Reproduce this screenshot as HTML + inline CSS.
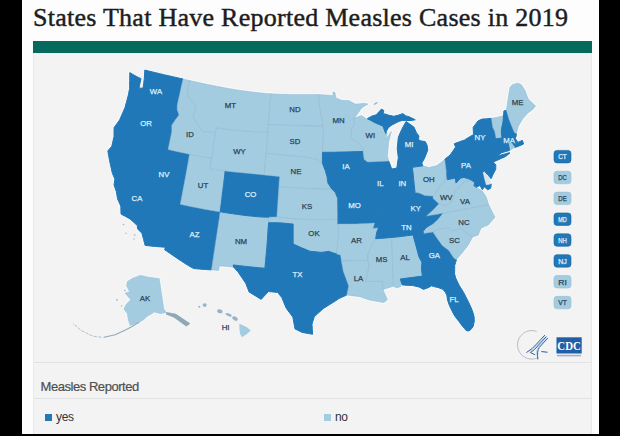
<!DOCTYPE html>
<html><head><meta charset="utf-8"><style>
html,body{margin:0;padding:0;width:620px;height:436px;overflow:hidden;background:#000;}
#page{position:absolute;left:22px;top:0;width:577px;height:434px;background:#fdfdfd;}
#title{position:absolute;left:11px;top:2px;font-family:"Liberation Serif",serif;font-size:26px;line-height:32px;color:#1d1d1d;letter-spacing:0.26px;-webkit-text-stroke:0.45px #1d1d1d;white-space:nowrap;transform-origin:0 0;}
#bar{position:absolute;left:11px;top:41px;width:559px;height:12px;background:#05695b;}
#panel{position:absolute;left:11px;top:53px;width:559px;height:381px;background:#f3f3f3;border-left:1px solid #e9e9e9;border-right:1px solid #e9e9e9;box-sizing:border-box;}
.hl{position:absolute;left:0;width:100%;height:1px;background:#e2e2e2;}
#lt{position:absolute;left:6.5px;top:326px;font-family:"Liberation Sans",sans-serif;font-size:13px;letter-spacing:-0.45px;color:#4f4f4f;white-space:nowrap;-webkit-text-stroke:0.2px #4f4f4f;}
.lg{position:absolute;top:357px;font-family:"Liberation Sans",sans-serif;font-size:12px;letter-spacing:-0.3px;color:#333;white-space:nowrap;}
.sq{display:inline-block;width:7px;height:7px;margin-right:4px;vertical-align:0px;}
svg{position:absolute;left:0;top:0;}
svg text{font-family:"Liberation Sans",sans-serif;font-size:7.8px;font-weight:normal;text-anchor:middle;stroke-width:0.25px;}
</style></head><body>
<div id="page">
<div id="title">States That Have Reported Measles Cases in 2019</div>
<div id="bar"></div>
<div id="panel">
<div class="hl" style="top:309px"></div>
<div class="hl" style="top:345px"></div>
<div id="lt">Measles Reported</div>
<div class="lg" style="left:11px"><span class="sq" style="background:#2178b8"></span>yes</div>
<div class="lg" style="left:290px"><span class="sq" style="background:#a4cce1"></span>no</div>
</div>
</div>
<svg width="620" height="436" viewBox="0 0 620 436">
<g fill="#fbfdff" stroke="#fbfdff" stroke-width="2.2" stroke-linejoin="round"><path d="M129.8,72.6 133.9,75.0 138.1,77.3 141.0,78.6 140.0,83.4 139.0,88.2 143.0,88.1 143.7,83.2 144.3,78.4 144.8,70.0 149.8,71.3 154.9,72.5 159.9,73.7 164.4,74.8 168.9,75.8 173.3,76.8 178.2,77.9 183.1,79.0 181.6,85.4 180.2,91.9 178.7,98.5 177.3,105.0 177.2,109.4 172.5,108.4 167.7,107.3 162.9,106.2 158.4,106.0 154.4,106.0 150.4,106.0 146.4,106.0 142.8,105.4 139.2,104.8 136.4,101.1 133.7,97.5 128.4,94.8 129.6,88.4 129.7,80.5Z"/><path d="M128.4,94.8 133.7,97.5 136.4,101.1 139.2,104.8 142.8,105.4 146.4,106.0 150.4,106.0 154.4,106.0 158.4,106.0 162.9,106.2 167.7,107.3 172.5,108.4 177.2,109.4 179.1,115.1 175.6,119.6 171.8,125.2 171.8,131.5 170.6,137.5 169.4,143.4 168.1,149.4 162.2,148.0 156.2,146.7 150.2,145.3 144.2,143.9 138.1,142.5 132.1,141.0 126.0,139.5 120.0,138.0 114.0,136.4 114.0,132.0 114.1,127.5 116.9,123.7 119.6,119.9 122.3,113.7 125.0,107.5 126.7,101.1Z"/><path d="M114.0,136.4 119.3,137.8 124.6,139.2 129.9,140.5 135.2,141.8 140.5,143.0 145.9,144.3 143.9,151.5 142.0,158.7 140.0,165.9 138.1,173.0 142.6,179.9 147.3,187.0 152.0,194.2 156.8,201.5 161.6,208.9 166.6,216.3 171.6,223.7 174.1,232.2 169.8,237.5 167.8,242.4 165.8,247.3 160.6,246.9 155.5,246.5 150.3,246.0 145.1,245.4 143.5,239.3 141.9,233.2 137.5,228.9 137.3,225.6 133.6,222.2 130.0,218.9 125.5,216.5 121.0,214.1 120.8,206.2 117.6,199.0 116.3,191.5 114.0,184.9 114.9,179.1 112.4,173.5 111.0,167.2 109.6,160.9 108.7,155.9 107.8,150.9 111.8,146.2 112.9,141.3Z"/><path d="M145.9,144.3 151.5,145.6 157.1,146.9 162.6,148.1 168.1,149.4 173.5,150.7 178.9,151.9 184.2,153.1 189.6,154.3 188.3,161.5 187.0,168.6 185.7,175.7 184.4,182.8 183.1,189.9 181.7,197.1 180.3,204.3 178.8,212.4 173.0,213.2 172.3,218.4 171.6,223.7 166.6,216.3 161.6,208.9 156.8,201.5 152.0,194.2 147.3,187.0 142.6,179.9 138.1,173.0 140.0,165.9 142.0,158.7 143.9,151.5Z"/><path d="M180.3,204.3 186.0,205.5 191.7,206.7 197.3,207.8 203.0,208.9 208.8,209.9 214.5,210.9 220.2,211.8 219.2,219.0 218.1,226.3 217.0,233.5 215.9,240.8 214.8,248.0 213.7,255.3 212.6,262.6 211.5,269.9 205.5,269.5 199.4,269.1 193.4,268.5 187.4,265.0 181.6,261.3 175.8,257.4 170.1,253.5 164.4,249.6 165.8,247.3 167.8,242.4 169.8,237.5 174.1,232.2 171.6,223.7 172.3,218.4 173.0,213.2 178.8,212.4Z"/><path d="M220.2,211.8 226.2,212.7 232.3,213.7 238.4,214.5 244.4,215.3 250.5,216.0 256.7,216.6 262.8,217.1 269.0,217.2 268.4,225.1 267.9,232.5 267.4,239.7 266.9,246.9 266.3,254.0 265.6,261.1 264.9,268.3 258.5,267.7 252.1,267.1 245.7,266.4 239.4,265.7 233.2,265.0 233.7,267.3 228.9,266.8 224.2,266.3 219.4,265.9 218.7,270.5 215.1,270.2 211.5,269.9 212.6,262.6 213.7,255.3 214.8,248.0 215.9,240.8 217.0,233.5 218.1,226.3 219.2,219.0Z"/><path d="M189.5,154.3 195.0,155.4 200.4,156.4 206.0,157.4 211.5,158.3 210.8,163.5 210.0,168.6 215.0,169.4 220.1,170.2 225.2,170.9 224.4,177.8 223.6,184.6 222.7,191.4 221.9,198.2 221.1,205.0 220.2,211.8 214.5,210.9 208.8,209.9 203.0,208.9 197.3,207.8 191.7,206.7 186.0,205.5 180.3,204.3 181.7,197.1 183.0,189.9 184.4,182.8 185.7,175.7 187.0,168.6 188.3,161.5Z"/><path d="M225.2,170.9 231.2,171.6 237.3,172.3 243.4,172.9 249.5,173.5 255.5,174.1 261.6,174.7 267.6,175.3 273.6,175.9 279.6,176.5 279.1,183.4 278.6,190.1 278.2,196.8 277.7,203.4 277.3,210.1 276.9,217.0 270.5,217.2 264.1,217.1 257.7,216.7 251.4,216.1 245.1,215.4 238.9,214.6 232.6,213.7 226.4,212.8 220.2,211.8 221.1,205.0 221.9,198.2 222.7,191.4 223.6,184.6 224.4,177.8Z"/><path d="M216.2,127.6 221.8,128.4 227.5,129.2 233.2,129.9 239.0,130.5 244.8,131.1 250.6,131.5 256.4,131.9 262.2,132.2 268.0,132.5 267.5,139.1 266.8,146.1 266.2,153.3 265.5,160.5 264.8,167.8 264.2,174.9 258.1,174.3 252.1,173.7 246.0,173.1 239.9,172.5 233.8,171.9 227.8,171.2 221.8,170.4 215.9,169.5 210.0,168.6 211.0,161.8 212.0,154.9 213.1,148.0 214.1,141.2 215.1,134.4Z"/><path d="M183.1,79.0 186.4,79.7 189.7,80.5 188.6,85.6 187.5,90.7 188.5,96.8 192.3,101.7 196.3,106.5 194.6,112.0 193.0,117.5 196.0,121.8 199.0,126.1 202.7,131.6 207.6,131.7 212.5,131.7 215.4,132.7 214.4,139.1 213.4,145.5 212.5,151.9 211.5,158.3 206.0,157.4 200.5,156.4 195.0,155.4 189.6,154.3 184.2,153.1 178.9,151.9 173.5,150.7 168.1,149.4 169.4,143.4 170.6,137.5 171.8,131.5 171.8,125.2 175.6,119.6 179.1,115.1 177.2,109.4 177.3,105.0 178.7,98.5 180.2,91.9 181.6,85.4Z"/><path d="M189.7,80.5 194.2,81.5 198.8,82.5 203.3,83.5 207.8,84.4 212.2,85.3 216.7,86.2 221.2,87.1 225.7,87.9 230.2,88.7 234.7,89.4 239.2,90.2 243.8,90.8 248.3,91.5 252.9,92.1 257.5,92.6 262.0,93.1 266.5,93.5 271.0,93.8 270.3,100.6 269.7,107.5 269.2,114.2 268.7,120.8 268.3,126.8 268.0,132.5 262.2,132.2 256.4,131.9 250.6,131.5 244.8,131.1 239.0,130.5 233.2,129.9 227.5,129.2 221.8,128.4 216.2,127.6 215.4,132.7 212.5,131.7 207.6,131.7 202.7,131.6 199.0,126.1 196.0,121.8 193.0,117.5 194.6,112.0 196.3,106.5 192.3,101.7 188.5,96.8 187.5,90.7 188.6,85.6Z"/><path d="M271.0,93.8 275.7,94.0 280.4,94.2 285.2,94.3 289.9,94.4 294.5,94.4 299.2,94.4 304.4,94.4 309.7,94.4 314.1,94.4 318.6,94.5 319.0,99.6 319.5,104.7 320.3,109.9 321.2,115.1 322.1,120.6 323.0,126.2 317.4,126.1 311.9,126.0 306.4,125.9 300.9,125.7 295.5,125.6 290.1,125.4 284.7,125.2 279.3,124.9 273.9,124.7 268.4,124.5 268.9,117.2 269.6,109.5 270.2,101.6Z"/><path d="M268.4,124.5 273.9,124.7 279.3,124.9 284.7,125.2 290.1,125.4 295.5,125.6 300.9,125.7 306.4,125.9 311.9,126.0 317.4,126.1 323.0,126.2 323.5,133.0 323.2,139.4 322.8,145.9 322.5,152.3 322.4,157.7 322.4,163.0 318.2,160.0 312.6,158.6 307.1,157.1 301.2,156.7 295.4,156.3 289.6,155.7 283.8,155.2 278.0,154.5 272.1,153.9 266.2,153.3 266.9,145.4 267.6,137.7 268.1,130.7Z"/><path d="M266.2,153.3 272.1,153.9 278.0,154.5 283.8,155.2 289.6,155.7 295.4,156.3 301.2,156.7 307.1,157.1 312.6,158.6 318.2,160.0 322.4,163.0 325.2,170.3 327.0,176.6 328.0,183.1 331.9,189.1 325.9,189.1 319.9,189.0 314.0,188.9 308.1,188.6 302.2,188.3 296.3,188.0 290.5,187.6 284.7,187.2 278.9,186.8 279.2,181.7 279.6,176.5 274.5,176.0 269.3,175.5 264.2,174.9 264.8,167.8 265.5,160.5Z"/><path d="M278.9,186.8 284.7,187.2 290.5,187.6 296.3,188.0 302.2,188.3 308.1,188.6 314.0,188.9 319.9,189.0 325.9,189.1 331.9,189.1 335.2,192.2 337.8,198.4 337.9,205.5 338.0,212.6 338.0,219.5 331.9,219.5 325.6,219.6 319.4,219.6 313.2,219.6 307.0,219.5 300.9,219.3 294.8,218.9 288.8,218.3 282.9,217.5 276.9,217.0 277.4,209.3 277.9,201.8 278.4,194.3Z"/><path d="M269.0,217.2 275.3,217.0 281.5,217.4 287.6,218.1 293.7,218.8 299.9,219.2 306.2,219.5 312.6,219.6 318.9,219.6 325.3,219.6 331.7,219.5 338.0,219.5 338.5,224.4 338.6,229.8 338.6,235.3 337.8,241.6 337.2,247.8 336.9,254.1 332.9,252.8 328.9,251.4 325.0,251.9 321.1,252.4 315.5,251.8 310.0,251.3 306.0,249.6 302.0,248.0 297.2,245.8 293.1,244.0 293.1,237.4 293.1,230.8 293.1,224.1 287.1,223.5 281.0,222.9 274.9,222.7 268.6,222.8Z"/><path d="M268.6,222.8 274.9,222.7 281.0,222.9 287.1,223.5 293.1,224.1 293.1,230.8 293.1,237.4 293.1,244.0 297.2,245.8 302.0,248.0 306.0,249.6 310.0,251.3 315.5,251.8 321.1,252.4 325.0,251.9 328.9,251.4 332.9,252.8 336.9,254.1 340.6,255.1 341.9,263.4 343.4,271.6 345.0,275.7 346.5,279.8 348.7,285.9 347.8,290.4 346.8,295.0 342.9,296.8 338.9,298.6 335.1,301.2 329.3,304.8 323.5,308.4 318.9,312.6 314.3,316.7 312.0,324.1 312.3,329.2 312.6,334.3 308.5,333.6 302.1,332.4 295.0,328.9 293.9,323.0 292.8,317.1 289.5,312.7 286.3,308.4 284.0,303.0 281.8,297.6 277.7,292.4 273.1,292.0 268.5,291.5 263.9,296.4 261.2,299.4 255.1,295.7 249.1,292.0 245.6,283.1 241.7,277.4 237.8,271.7 233.7,267.3 233.2,265.0 239.4,265.7 245.7,266.4 252.1,267.1 258.5,267.7 264.9,268.3 265.6,260.7 266.3,253.3 267.0,245.8 267.5,238.3 268.0,230.7Z"/><path d="M318.6,94.5 322.3,94.7 325.9,95.0 329.6,95.2 333.1,95.4 333.0,91.7 335.0,92.5 336.0,97.9 338.9,99.1 341.7,100.3 345.3,100.4 348.8,100.5 352.1,102.3 355.6,104.1 359.7,103.7 364.3,103.2 368.1,104.0 364.4,106.2 361.3,108.4 358.4,112.8 355.1,117.2 353.9,118.2 354.5,124.3 351.5,129.4 351.4,133.9 351.2,138.5 357.2,141.5 362.8,148.3 363.1,151.5 357.5,151.6 351.8,151.8 346.0,152.0 340.1,152.1 334.2,152.3 328.3,152.3 322.5,152.3 322.8,145.9 323.2,139.4 323.5,133.0 323.0,126.2 322.1,120.6 321.2,115.1 320.3,109.9 319.5,104.7 319.0,99.6Z"/><path d="M322.5,152.3 328.3,152.3 334.2,152.3 340.1,152.1 346.0,152.0 351.8,151.8 357.5,151.6 363.1,151.5 364.2,159.4 367.7,161.9 371.7,167.0 371.4,169.1 368.5,172.3 364.8,176.7 362.6,184.2 360.1,182.0 354.8,182.3 349.5,182.5 344.1,182.8 338.8,182.9 333.4,183.0 328.0,183.1 327.0,176.6 325.2,170.3 322.4,163.0 322.4,157.7Z"/><path d="M328.0,183.1 333.4,183.0 338.8,182.9 344.1,182.8 349.5,182.5 354.8,182.3 360.1,182.0 362.6,184.2 362.6,189.2 368.7,195.8 373.7,199.7 372.6,205.9 378.9,211.1 382.5,217.4 379.9,222.8 378.5,228.0 372.9,228.4 374.5,223.1 368.4,223.5 362.2,223.8 356.1,224.0 350.0,224.1 344.0,224.1 338.0,224.1 338.0,219.5 338.0,212.6 337.9,205.5 337.8,198.4 335.2,192.2 331.9,189.1Z"/><path d="M338.0,224.1 344.0,224.1 350.0,224.1 356.1,224.0 362.2,223.8 368.4,223.5 374.5,223.1 372.9,228.4 378.5,228.0 376.7,232.3 375.7,238.7 371.8,245.2 369.8,249.9 368.0,254.5 368.1,260.4 361.4,260.6 354.7,260.8 347.9,260.9 341.4,261.0 340.6,255.1 336.9,254.1 337.2,247.8 337.8,241.6 338.6,235.3 338.4,229.6Z"/><path d="M341.4,261.0 347.9,260.9 354.7,260.8 361.4,260.6 368.1,260.4 369.1,265.7 368.2,270.5 367.3,275.4 366.0,281.7 371.4,281.5 376.9,281.3 382.3,281.0 382.8,285.2 383.1,289.4 383.8,291.5 385.6,295.6 387.4,299.7 383.9,302.6 377.3,301.4 373.2,300.7 369.1,300.0 364.6,298.4 360.0,296.8 353.5,295.9 346.8,295.0 347.8,290.4 348.7,285.9 346.5,279.8 345.0,275.7 343.4,271.6 342.4,266.3Z"/><path d="M375.7,238.7 381.2,238.3 386.5,237.9 391.8,237.4 392.0,245.6 392.3,253.8 392.5,262.1 392.6,270.3 393.2,278.3 393.4,286.3 388.2,287.9 383.1,289.4 382.8,285.2 382.3,281.0 376.9,281.3 371.4,281.5 366.0,281.7 367.3,275.4 368.2,270.5 369.1,265.7 368.1,260.4 368.0,254.5 369.8,249.9 371.8,245.2Z"/><path d="M391.8,237.4 397.2,236.9 402.5,236.3 407.8,235.6 413.0,234.9 415.0,242.2 417.0,249.5 418.9,256.7 421.9,262.4 421.5,269.8 422.5,276.1 416.9,276.9 411.3,277.6 405.8,278.3 400.3,279.0 401.1,286.4 396.8,288.0 393.4,286.3 393.2,278.3 392.6,270.3 392.5,262.1 392.3,253.8 392.0,245.6Z"/><path d="M413.0,234.9 418.0,234.2 423.0,233.5 428.0,232.7 433.0,231.9 436.1,236.7 439.1,241.0 442.3,245.4 449.0,250.6 454.0,258.3 456.5,259.6 454.7,265.5 454.7,269.7 454.6,273.9 449.9,278.3 448.0,276.4 441.9,277.2 435.9,277.8 429.9,278.4 424.0,278.9 422.5,276.1 421.5,269.8 421.9,262.4 418.9,256.7 417.0,249.5 415.0,242.2Z"/><path d="M400.3,279.0 422.5,276.1 424.0,278.9 448.0,276.4 449.9,278.3 454.6,273.9 455.7,278.0 459.0,285.0 463.7,292.5 467.0,299.0 470.1,305.3 472.5,311.0 474.1,316.5 474.3,321.0 473.3,326.2 471.0,329.5 468.5,331.0 466.0,330.5 464.5,328.6 461.5,325.0 458.9,321.4 456.5,318.5 454.1,315.0 451.5,310.0 449.3,305.3 447.5,300.0 446.9,295.7 445.5,292.5 442.8,289.3 438.0,287.5 433.7,286.6 431.6,285.8 428.0,287.8 423.5,289.4 419.0,287.0 412.3,285.5 406.0,285.2 402.1,284.9Z"/><path d="M433.0,231.9 438.4,228.8 443.9,228.1 449.4,227.4 451.9,230.7 456.5,229.8 461.1,228.9 466.8,233.0 472.7,236.9 468.5,244.7 462.8,252.3 459.6,256.0 456.5,259.6 454.0,258.3 449.0,250.6 442.3,245.4 439.1,241.0 436.1,236.7Z"/><path d="M423.3,233.4 428.2,232.7 433.0,231.9 438.4,228.8 443.9,228.1 449.4,227.4 451.9,230.7 456.5,229.8 461.1,228.9 466.8,233.0 472.7,236.9 478.2,235.2 481.0,228.2 484.7,226.6 488.3,225.1 491.7,221.1 495.1,217.2 491.9,210.9 488.7,204.6 482.9,205.7 477.1,206.8 471.2,207.9 465.4,209.0 459.6,210.1 453.8,211.1 448.1,212.2 442.3,213.2 438.0,218.7 433.2,223.3 429.6,225.5 426.0,227.7 423.2,231.3Z"/><path d="M375.7,238.7 381.2,238.3 386.5,237.9 391.8,237.4 397.2,236.9 402.5,236.3 407.8,235.6 413.0,234.9 418.2,234.2 423.3,233.4 423.2,231.3 426.0,227.7 429.6,225.5 433.2,223.3 438.0,218.7 442.3,213.2 437.0,214.2 431.8,215.1 426.5,216.0 420.7,216.8 414.9,217.5 409.1,218.2 403.3,218.9 397.4,219.4 391.5,219.9 391.8,221.7 385.9,222.3 379.9,222.8 378.5,228.0 376.7,232.3Z"/><path d="M379.9,222.8 385.9,222.3 391.8,221.7 391.5,219.9 397.4,219.4 403.3,218.9 409.1,218.2 414.9,217.5 420.7,216.8 426.5,216.0 430.1,212.7 433.7,209.4 438.9,203.8 433.2,198.4 433.0,196.0 429.0,195.8 425.0,195.5 419.2,193.0 415.0,192.2 410.9,196.8 408.1,201.3 402.9,205.5 398.6,206.3 394.3,207.1 390.8,208.5 390.6,212.1 386.6,214.8 382.5,217.4Z"/><path d="M426.5,216.0 431.8,215.1 437.0,214.2 442.3,213.2 448.1,212.2 453.8,211.1 459.6,210.1 465.4,209.0 471.2,207.9 477.1,206.8 482.9,205.7 488.7,204.6 486.3,197.0 482.7,191.3 476.3,187.3 474.0,185.7 474.7,182.4 471.1,180.0 469.4,179.1 468.9,181.2 464.2,181.4 460.2,186.4 455.6,189.9 453.8,195.7 452.0,201.6 448.6,203.6 445.3,205.6 438.9,203.8 433.7,209.4 430.1,212.7Z"/><path d="M433.2,198.4 438.9,203.8 445.3,205.6 448.6,203.6 452.0,201.6 453.8,195.7 455.6,189.9 460.2,186.4 464.2,181.4 468.9,181.2 469.4,179.1 464.0,177.4 460.6,178.1 456.0,183.1 455.3,178.0 451.3,178.9 447.4,179.7 446.8,175.5 446.2,171.3 446.1,174.5 445.0,181.4 442.0,184.1 439.0,186.7 435.8,193.4 433.0,196.0Z"/><path d="M455.3,178.0 460.9,176.9 466.4,175.7 472.0,174.5 477.5,173.3 483.1,172.1 484.6,178.4 486.3,184.8 491.3,183.8 490.7,188.3 487.7,189.8 484.2,186.8 482.4,189.8 480.0,185.5 476.3,187.3 474.0,185.7 474.7,182.4 471.1,180.0 469.4,179.1 464.0,177.4 460.6,178.1 456.0,183.1Z"/><path d="M483.1,172.1 484.4,170.7 485.5,172.4 488.6,176.4 490.6,180.2 491.3,183.8 486.3,184.8 484.6,178.4Z"/><path d="M444.7,159.3 450.0,155.1 450.3,157.6 455.8,155.9 461.2,154.1 466.6,152.4 471.9,150.9 477.2,149.6 482.5,148.5 484.6,150.2 488.3,154.1 486.0,158.2 485.8,161.4 489.9,165.5 487.5,168.8 485.5,172.4 484.4,170.7 483.1,172.1 477.1,173.4 471.2,174.6 465.3,175.9 459.3,177.2 453.4,178.4 447.4,179.7 446.8,175.5 446.2,171.3 445.4,165.3Z"/><path d="M488.3,154.1 494.8,156.6 494.6,159.6 493.2,162.3 495.8,164.6 495.8,169.2 493.0,174.5 491.1,178.8 488.4,175.4 485.5,172.4 487.5,168.8 489.9,165.5 485.8,161.4 486.0,158.2Z"/><path d="M450.3,157.6 450.0,155.1 452.9,151.1 455.6,146.9 454.1,143.8 459.3,141.8 464.6,139.9 469.1,137.1 473.5,134.6 473.1,127.4 475.6,124.0 478.1,120.8 482.0,119.1 486.7,118.8 491.5,118.3 492.1,122.9 492.8,127.4 494.7,131.3 496.2,138.8 495.7,145.7 496.6,149.8 497.5,154.0 496.6,156.3 500.6,155.1 504.7,154.0 508.8,152.8 510.0,152.9 505.7,156.5 500.7,158.7 495.7,161.0 493.2,162.3 494.6,159.6 494.8,156.6 488.3,154.1 484.6,150.2 482.5,148.5 477.2,149.6 471.9,150.9 466.6,152.4 461.2,154.1 455.8,155.9Z"/><path d="M491.5,118.3 496.2,117.4 501.1,116.3 506.0,115.0 505.7,119.2 502.9,122.8 501.6,128.8 501.3,133.6 502.2,138.0 496.2,138.8 494.7,131.3 492.8,127.4 492.1,122.9Z"/><path d="M503.9,110.9 506.4,110.3 509.1,119.5 512.5,128.0 514.5,132.5 516.1,134.2 516.0,136.8 511.0,136.5 506.3,137.4 502.1,138.0 501.3,133.6 501.5,128.8 502.9,122.8 503.5,116.0Z"/><path d="M506.4,110.3 508.2,97.9 509.9,87.6 512.2,84.7 517.9,83.0 521.4,84.7 524.8,89.9 528.3,99.1 535.7,106.0 532.8,109.4 528.0,113.0 522.8,118.8 518.5,126.0 516.1,134.2 514.5,132.5 512.5,128.0 509.1,119.5Z"/><path d="M495.7,145.7 496.2,138.8 502.2,138.0 506.4,137.4 511.0,136.5 516.2,133.6 515.4,138.5 517.9,142.4 522.4,140.3 523.6,144.0 518.7,146.2 514.9,147.5 511.7,143.0 508.4,143.7 504.1,144.4 499.9,145.1Z"/><path d="M508.4,143.7 511.7,143.0 514.9,147.5 509.5,150.5Z"/><path d="M495.7,145.7 499.9,145.1 504.1,144.4 508.4,143.7 509.5,150.5 505.6,151.6 501.7,152.7 496.6,156.3 497.5,154.0 496.6,149.8Z"/><path d="M412.3,167.4 417.6,166.6 422.9,165.8 428.9,167.5 432.7,166.6 436.4,165.7 440.6,162.7 444.7,159.5 445.4,165.4 446.2,171.3 446.1,174.5 445.0,181.4 442.0,184.1 439.0,186.7 435.8,193.4 433.0,196.0 429.0,195.8 425.0,195.5 419.2,193.0 415.0,192.2 414.3,185.9 413.7,179.6 413.0,173.5Z"/><path d="M391.6,169.0 396.9,168.0 401.9,167.7 407.0,167.3 412.2,166.8 413.0,173.0 413.6,179.3 414.3,185.7 415.0,192.2 410.9,196.8 408.1,201.3 402.9,205.5 398.6,206.3 394.3,207.1 390.8,208.5 391.6,203.3 392.6,197.8 393.7,192.4 393.0,184.6 392.3,176.8Z"/><path d="M367.7,161.9 373.1,161.7 378.3,161.5 383.5,161.2 388.7,161.0 390.7,166.0 391.6,169.0 392.3,176.8 393.0,184.6 393.7,192.4 392.6,197.8 391.6,203.3 390.8,208.5 390.6,212.1 386.6,214.8 382.5,217.4 378.9,211.1 372.6,205.9 373.7,199.7 368.7,195.8 362.6,189.2 362.6,184.2 364.8,176.7 368.5,172.3 371.4,169.1 371.7,167.0Z"/><path d="M351.2,138.5 351.4,133.9 351.5,129.4 354.5,124.3 353.9,118.2 357.9,116.8 361.6,115.5 366.4,118.7 370.6,121.4 375.2,122.8 379.6,124.2 384.5,126.6 387.3,133.5 385.2,139.5 388.1,135.7 391.4,131.2 390.1,136.7 388.7,142.1 388.1,148.5 387.5,155.9 388.7,161.0 383.5,161.2 378.3,161.5 373.1,161.7 367.7,161.9 364.2,159.4 363.1,151.5 362.8,148.3 357.2,141.5Z"/><path d="M406.0,121.5 401.8,129.2 398.3,137.2 397.2,148.7 398.3,157.8 396.8,167.8 412.1,166.7 412.2,167.3 422.8,165.8 421.8,163.0 424.4,158.7 427.8,150.1 427.0,145.0 425.2,141.5 421.5,141.0 418.4,139.7 419.0,136.0 416.6,132.9 413.9,127.0 409.0,123.5Z"/><path d="M367.2,118.7 372.0,116.0 376.2,114.8 381.5,109.0 383.9,110.5 383.0,113.9 385.0,113.9 389.1,115.3 393.9,116.3 398.8,115.0 402.9,113.6 405.6,115.7 409.8,117.0 415.3,119.8 411.1,120.5 405.6,120.5 402.2,120.5 398.8,121.5 391.9,125.0 388.4,127.7 386.4,131.1 385.7,133.5 382.9,126.1 376.0,123.2Z"/></g>
<g stroke-linejoin="round">
<path d="M129.8,72.6 133.9,75.0 138.1,77.3 141.0,78.6 140.0,83.4 139.0,88.2 143.0,88.1 143.7,83.2 144.3,78.4 144.8,70.0 149.8,71.3 154.9,72.5 159.9,73.7 164.4,74.8 168.9,75.8 173.3,76.8 178.2,77.9 183.1,79.0 181.6,85.4 180.2,91.9 178.7,98.5 177.3,105.0 177.2,109.4 172.5,108.4 167.7,107.3 162.9,106.2 158.4,106.0 154.4,106.0 150.4,106.0 146.4,106.0 142.8,105.4 139.2,104.8 136.4,101.1 133.7,97.5 128.4,94.8 129.6,88.4 129.7,80.5Z" fill="#2178b8" stroke="#2178b8" stroke-width="1.0"/><path d="M128.4,94.8 133.7,97.5 136.4,101.1 139.2,104.8 142.8,105.4 146.4,106.0 150.4,106.0 154.4,106.0 158.4,106.0 162.9,106.2 167.7,107.3 172.5,108.4 177.2,109.4 179.1,115.1 175.6,119.6 171.8,125.2 171.8,131.5 170.6,137.5 169.4,143.4 168.1,149.4 162.2,148.0 156.2,146.7 150.2,145.3 144.2,143.9 138.1,142.5 132.1,141.0 126.0,139.5 120.0,138.0 114.0,136.4 114.0,132.0 114.1,127.5 116.9,123.7 119.6,119.9 122.3,113.7 125.0,107.5 126.7,101.1Z" fill="#2178b8" stroke="#2178b8" stroke-width="1.0"/><path d="M114.0,136.4 119.3,137.8 124.6,139.2 129.9,140.5 135.2,141.8 140.5,143.0 145.9,144.3 143.9,151.5 142.0,158.7 140.0,165.9 138.1,173.0 142.6,179.9 147.3,187.0 152.0,194.2 156.8,201.5 161.6,208.9 166.6,216.3 171.6,223.7 174.1,232.2 169.8,237.5 167.8,242.4 165.8,247.3 160.6,246.9 155.5,246.5 150.3,246.0 145.1,245.4 143.5,239.3 141.9,233.2 137.5,228.9 137.3,225.6 133.6,222.2 130.0,218.9 125.5,216.5 121.0,214.1 120.8,206.2 117.6,199.0 116.3,191.5 114.0,184.9 114.9,179.1 112.4,173.5 111.0,167.2 109.6,160.9 108.7,155.9 107.8,150.9 111.8,146.2 112.9,141.3Z" fill="#2178b8" stroke="#2178b8" stroke-width="1.0"/><path d="M145.9,144.3 151.5,145.6 157.1,146.9 162.6,148.1 168.1,149.4 173.5,150.7 178.9,151.9 184.2,153.1 189.6,154.3 188.3,161.5 187.0,168.6 185.7,175.7 184.4,182.8 183.1,189.9 181.7,197.1 180.3,204.3 178.8,212.4 173.0,213.2 172.3,218.4 171.6,223.7 166.6,216.3 161.6,208.9 156.8,201.5 152.0,194.2 147.3,187.0 142.6,179.9 138.1,173.0 140.0,165.9 142.0,158.7 143.9,151.5Z" fill="#2178b8" stroke="#2178b8" stroke-width="1.0"/><path d="M180.3,204.3 186.0,205.5 191.7,206.7 197.3,207.8 203.0,208.9 208.8,209.9 214.5,210.9 220.2,211.8 219.2,219.0 218.1,226.3 217.0,233.5 215.9,240.8 214.8,248.0 213.7,255.3 212.6,262.6 211.5,269.9 205.5,269.5 199.4,269.1 193.4,268.5 187.4,265.0 181.6,261.3 175.8,257.4 170.1,253.5 164.4,249.6 165.8,247.3 167.8,242.4 169.8,237.5 174.1,232.2 171.6,223.7 172.3,218.4 173.0,213.2 178.8,212.4Z" fill="#2178b8" stroke="#2178b8" stroke-width="1.0"/><path d="M220.2,211.8 226.2,212.7 232.3,213.7 238.4,214.5 244.4,215.3 250.5,216.0 256.7,216.6 262.8,217.1 269.0,217.2 268.4,225.1 267.9,232.5 267.4,239.7 266.9,246.9 266.3,254.0 265.6,261.1 264.9,268.3 258.5,267.7 252.1,267.1 245.7,266.4 239.4,265.7 233.2,265.0 233.7,267.3 228.9,266.8 224.2,266.3 219.4,265.9 218.7,270.5 215.1,270.2 211.5,269.9 212.6,262.6 213.7,255.3 214.8,248.0 215.9,240.8 217.0,233.5 218.1,226.3 219.2,219.0Z" fill="#a4cce1" stroke="#8fb4cc" stroke-width="0.5"/><path d="M189.5,154.3 195.0,155.4 200.4,156.4 206.0,157.4 211.5,158.3 210.8,163.5 210.0,168.6 215.0,169.4 220.1,170.2 225.2,170.9 224.4,177.8 223.6,184.6 222.7,191.4 221.9,198.2 221.1,205.0 220.2,211.8 214.5,210.9 208.8,209.9 203.0,208.9 197.3,207.8 191.7,206.7 186.0,205.5 180.3,204.3 181.7,197.1 183.0,189.9 184.4,182.8 185.7,175.7 187.0,168.6 188.3,161.5Z" fill="#a4cce1" stroke="#8fb4cc" stroke-width="0.5"/><path d="M225.2,170.9 231.2,171.6 237.3,172.3 243.4,172.9 249.5,173.5 255.5,174.1 261.6,174.7 267.6,175.3 273.6,175.9 279.6,176.5 279.1,183.4 278.6,190.1 278.2,196.8 277.7,203.4 277.3,210.1 276.9,217.0 270.5,217.2 264.1,217.1 257.7,216.7 251.4,216.1 245.1,215.4 238.9,214.6 232.6,213.7 226.4,212.8 220.2,211.8 221.1,205.0 221.9,198.2 222.7,191.4 223.6,184.6 224.4,177.8Z" fill="#2178b8" stroke="#2178b8" stroke-width="1.0"/><path d="M216.2,127.6 221.8,128.4 227.5,129.2 233.2,129.9 239.0,130.5 244.8,131.1 250.6,131.5 256.4,131.9 262.2,132.2 268.0,132.5 267.5,139.1 266.8,146.1 266.2,153.3 265.5,160.5 264.8,167.8 264.2,174.9 258.1,174.3 252.1,173.7 246.0,173.1 239.9,172.5 233.8,171.9 227.8,171.2 221.8,170.4 215.9,169.5 210.0,168.6 211.0,161.8 212.0,154.9 213.1,148.0 214.1,141.2 215.1,134.4Z" fill="#a4cce1" stroke="#8fb4cc" stroke-width="0.5"/><path d="M183.1,79.0 186.4,79.7 189.7,80.5 188.6,85.6 187.5,90.7 188.5,96.8 192.3,101.7 196.3,106.5 194.6,112.0 193.0,117.5 196.0,121.8 199.0,126.1 202.7,131.6 207.6,131.7 212.5,131.7 215.4,132.7 214.4,139.1 213.4,145.5 212.5,151.9 211.5,158.3 206.0,157.4 200.5,156.4 195.0,155.4 189.6,154.3 184.2,153.1 178.9,151.9 173.5,150.7 168.1,149.4 169.4,143.4 170.6,137.5 171.8,131.5 171.8,125.2 175.6,119.6 179.1,115.1 177.2,109.4 177.3,105.0 178.7,98.5 180.2,91.9 181.6,85.4Z" fill="#a4cce1" stroke="#8fb4cc" stroke-width="0.5"/><path d="M189.7,80.5 194.2,81.5 198.8,82.5 203.3,83.5 207.8,84.4 212.2,85.3 216.7,86.2 221.2,87.1 225.7,87.9 230.2,88.7 234.7,89.4 239.2,90.2 243.8,90.8 248.3,91.5 252.9,92.1 257.5,92.6 262.0,93.1 266.5,93.5 271.0,93.8 270.3,100.6 269.7,107.5 269.2,114.2 268.7,120.8 268.3,126.8 268.0,132.5 262.2,132.2 256.4,131.9 250.6,131.5 244.8,131.1 239.0,130.5 233.2,129.9 227.5,129.2 221.8,128.4 216.2,127.6 215.4,132.7 212.5,131.7 207.6,131.7 202.7,131.6 199.0,126.1 196.0,121.8 193.0,117.5 194.6,112.0 196.3,106.5 192.3,101.7 188.5,96.8 187.5,90.7 188.6,85.6Z" fill="#a4cce1" stroke="#8fb4cc" stroke-width="0.5"/><path d="M271.0,93.8 275.7,94.0 280.4,94.2 285.2,94.3 289.9,94.4 294.5,94.4 299.2,94.4 304.4,94.4 309.7,94.4 314.1,94.4 318.6,94.5 319.0,99.6 319.5,104.7 320.3,109.9 321.2,115.1 322.1,120.6 323.0,126.2 317.4,126.1 311.9,126.0 306.4,125.9 300.9,125.7 295.5,125.6 290.1,125.4 284.7,125.2 279.3,124.9 273.9,124.7 268.4,124.5 268.9,117.2 269.6,109.5 270.2,101.6Z" fill="#a4cce1" stroke="#8fb4cc" stroke-width="0.5"/><path d="M268.4,124.5 273.9,124.7 279.3,124.9 284.7,125.2 290.1,125.4 295.5,125.6 300.9,125.7 306.4,125.9 311.9,126.0 317.4,126.1 323.0,126.2 323.5,133.0 323.2,139.4 322.8,145.9 322.5,152.3 322.4,157.7 322.4,163.0 318.2,160.0 312.6,158.6 307.1,157.1 301.2,156.7 295.4,156.3 289.6,155.7 283.8,155.2 278.0,154.5 272.1,153.9 266.2,153.3 266.9,145.4 267.6,137.7 268.1,130.7Z" fill="#a4cce1" stroke="#8fb4cc" stroke-width="0.5"/><path d="M266.2,153.3 272.1,153.9 278.0,154.5 283.8,155.2 289.6,155.7 295.4,156.3 301.2,156.7 307.1,157.1 312.6,158.6 318.2,160.0 322.4,163.0 325.2,170.3 327.0,176.6 328.0,183.1 331.9,189.1 325.9,189.1 319.9,189.0 314.0,188.9 308.1,188.6 302.2,188.3 296.3,188.0 290.5,187.6 284.7,187.2 278.9,186.8 279.2,181.7 279.6,176.5 274.5,176.0 269.3,175.5 264.2,174.9 264.8,167.8 265.5,160.5Z" fill="#a4cce1" stroke="#8fb4cc" stroke-width="0.5"/><path d="M278.9,186.8 284.7,187.2 290.5,187.6 296.3,188.0 302.2,188.3 308.1,188.6 314.0,188.9 319.9,189.0 325.9,189.1 331.9,189.1 335.2,192.2 337.8,198.4 337.9,205.5 338.0,212.6 338.0,219.5 331.9,219.5 325.6,219.6 319.4,219.6 313.2,219.6 307.0,219.5 300.9,219.3 294.8,218.9 288.8,218.3 282.9,217.5 276.9,217.0 277.4,209.3 277.9,201.8 278.4,194.3Z" fill="#a4cce1" stroke="#8fb4cc" stroke-width="0.5"/><path d="M269.0,217.2 275.3,217.0 281.5,217.4 287.6,218.1 293.7,218.8 299.9,219.2 306.2,219.5 312.6,219.6 318.9,219.6 325.3,219.6 331.7,219.5 338.0,219.5 338.5,224.4 338.6,229.8 338.6,235.3 337.8,241.6 337.2,247.8 336.9,254.1 332.9,252.8 328.9,251.4 325.0,251.9 321.1,252.4 315.5,251.8 310.0,251.3 306.0,249.6 302.0,248.0 297.2,245.8 293.1,244.0 293.1,237.4 293.1,230.8 293.1,224.1 287.1,223.5 281.0,222.9 274.9,222.7 268.6,222.8Z" fill="#a4cce1" stroke="#8fb4cc" stroke-width="0.5"/><path d="M268.6,222.8 274.9,222.7 281.0,222.9 287.1,223.5 293.1,224.1 293.1,230.8 293.1,237.4 293.1,244.0 297.2,245.8 302.0,248.0 306.0,249.6 310.0,251.3 315.5,251.8 321.1,252.4 325.0,251.9 328.9,251.4 332.9,252.8 336.9,254.1 340.6,255.1 341.9,263.4 343.4,271.6 345.0,275.7 346.5,279.8 348.7,285.9 347.8,290.4 346.8,295.0 342.9,296.8 338.9,298.6 335.1,301.2 329.3,304.8 323.5,308.4 318.9,312.6 314.3,316.7 312.0,324.1 312.3,329.2 312.6,334.3 308.5,333.6 302.1,332.4 295.0,328.9 293.9,323.0 292.8,317.1 289.5,312.7 286.3,308.4 284.0,303.0 281.8,297.6 277.7,292.4 273.1,292.0 268.5,291.5 263.9,296.4 261.2,299.4 255.1,295.7 249.1,292.0 245.6,283.1 241.7,277.4 237.8,271.7 233.7,267.3 233.2,265.0 239.4,265.7 245.7,266.4 252.1,267.1 258.5,267.7 264.9,268.3 265.6,260.7 266.3,253.3 267.0,245.8 267.5,238.3 268.0,230.7Z" fill="#2178b8" stroke="#2178b8" stroke-width="1.0"/><path d="M318.6,94.5 322.3,94.7 325.9,95.0 329.6,95.2 333.1,95.4 333.0,91.7 335.0,92.5 336.0,97.9 338.9,99.1 341.7,100.3 345.3,100.4 348.8,100.5 352.1,102.3 355.6,104.1 359.7,103.7 364.3,103.2 368.1,104.0 364.4,106.2 361.3,108.4 358.4,112.8 355.1,117.2 353.9,118.2 354.5,124.3 351.5,129.4 351.4,133.9 351.2,138.5 357.2,141.5 362.8,148.3 363.1,151.5 357.5,151.6 351.8,151.8 346.0,152.0 340.1,152.1 334.2,152.3 328.3,152.3 322.5,152.3 322.8,145.9 323.2,139.4 323.5,133.0 323.0,126.2 322.1,120.6 321.2,115.1 320.3,109.9 319.5,104.7 319.0,99.6Z" fill="#a4cce1" stroke="#8fb4cc" stroke-width="0.5"/><path d="M322.5,152.3 328.3,152.3 334.2,152.3 340.1,152.1 346.0,152.0 351.8,151.8 357.5,151.6 363.1,151.5 364.2,159.4 367.7,161.9 371.7,167.0 371.4,169.1 368.5,172.3 364.8,176.7 362.6,184.2 360.1,182.0 354.8,182.3 349.5,182.5 344.1,182.8 338.8,182.9 333.4,183.0 328.0,183.1 327.0,176.6 325.2,170.3 322.4,163.0 322.4,157.7Z" fill="#2178b8" stroke="#2178b8" stroke-width="1.0"/><path d="M328.0,183.1 333.4,183.0 338.8,182.9 344.1,182.8 349.5,182.5 354.8,182.3 360.1,182.0 362.6,184.2 362.6,189.2 368.7,195.8 373.7,199.7 372.6,205.9 378.9,211.1 382.5,217.4 379.9,222.8 378.5,228.0 372.9,228.4 374.5,223.1 368.4,223.5 362.2,223.8 356.1,224.0 350.0,224.1 344.0,224.1 338.0,224.1 338.0,219.5 338.0,212.6 337.9,205.5 337.8,198.4 335.2,192.2 331.9,189.1Z" fill="#2178b8" stroke="#2178b8" stroke-width="1.0"/><path d="M338.0,224.1 344.0,224.1 350.0,224.1 356.1,224.0 362.2,223.8 368.4,223.5 374.5,223.1 372.9,228.4 378.5,228.0 376.7,232.3 375.7,238.7 371.8,245.2 369.8,249.9 368.0,254.5 368.1,260.4 361.4,260.6 354.7,260.8 347.9,260.9 341.4,261.0 340.6,255.1 336.9,254.1 337.2,247.8 337.8,241.6 338.6,235.3 338.4,229.6Z" fill="#a4cce1" stroke="#8fb4cc" stroke-width="0.5"/><path d="M341.4,261.0 347.9,260.9 354.7,260.8 361.4,260.6 368.1,260.4 369.1,265.7 368.2,270.5 367.3,275.4 366.0,281.7 371.4,281.5 376.9,281.3 382.3,281.0 382.8,285.2 383.1,289.4 383.8,291.5 385.6,295.6 387.4,299.7 383.9,302.6 377.3,301.4 373.2,300.7 369.1,300.0 364.6,298.4 360.0,296.8 353.5,295.9 346.8,295.0 347.8,290.4 348.7,285.9 346.5,279.8 345.0,275.7 343.4,271.6 342.4,266.3Z" fill="#a4cce1" stroke="#8fb4cc" stroke-width="0.5"/><path d="M375.7,238.7 381.2,238.3 386.5,237.9 391.8,237.4 392.0,245.6 392.3,253.8 392.5,262.1 392.6,270.3 393.2,278.3 393.4,286.3 388.2,287.9 383.1,289.4 382.8,285.2 382.3,281.0 376.9,281.3 371.4,281.5 366.0,281.7 367.3,275.4 368.2,270.5 369.1,265.7 368.1,260.4 368.0,254.5 369.8,249.9 371.8,245.2Z" fill="#a4cce1" stroke="#8fb4cc" stroke-width="0.5"/><path d="M391.8,237.4 397.2,236.9 402.5,236.3 407.8,235.6 413.0,234.9 415.0,242.2 417.0,249.5 418.9,256.7 421.9,262.4 421.5,269.8 422.5,276.1 416.9,276.9 411.3,277.6 405.8,278.3 400.3,279.0 401.1,286.4 396.8,288.0 393.4,286.3 393.2,278.3 392.6,270.3 392.5,262.1 392.3,253.8 392.0,245.6Z" fill="#a4cce1" stroke="#8fb4cc" stroke-width="0.5"/><path d="M413.0,234.9 418.0,234.2 423.0,233.5 428.0,232.7 433.0,231.9 436.1,236.7 439.1,241.0 442.3,245.4 449.0,250.6 454.0,258.3 456.5,259.6 454.7,265.5 454.7,269.7 454.6,273.9 449.9,278.3 448.0,276.4 441.9,277.2 435.9,277.8 429.9,278.4 424.0,278.9 422.5,276.1 421.5,269.8 421.9,262.4 418.9,256.7 417.0,249.5 415.0,242.2Z" fill="#2178b8" stroke="#2178b8" stroke-width="1.0"/><path d="M400.3,279.0 422.5,276.1 424.0,278.9 448.0,276.4 449.9,278.3 454.6,273.9 455.7,278.0 459.0,285.0 463.7,292.5 467.0,299.0 470.1,305.3 472.5,311.0 474.1,316.5 474.3,321.0 473.3,326.2 471.0,329.5 468.5,331.0 466.0,330.5 464.5,328.6 461.5,325.0 458.9,321.4 456.5,318.5 454.1,315.0 451.5,310.0 449.3,305.3 447.5,300.0 446.9,295.7 445.5,292.5 442.8,289.3 438.0,287.5 433.7,286.6 431.6,285.8 428.0,287.8 423.5,289.4 419.0,287.0 412.3,285.5 406.0,285.2 402.1,284.9Z" fill="#2178b8" stroke="#2178b8" stroke-width="1.0"/><path d="M433.0,231.9 438.4,228.8 443.9,228.1 449.4,227.4 451.9,230.7 456.5,229.8 461.1,228.9 466.8,233.0 472.7,236.9 468.5,244.7 462.8,252.3 459.6,256.0 456.5,259.6 454.0,258.3 449.0,250.6 442.3,245.4 439.1,241.0 436.1,236.7Z" fill="#a4cce1" stroke="#8fb4cc" stroke-width="0.5"/><path d="M423.3,233.4 428.2,232.7 433.0,231.9 438.4,228.8 443.9,228.1 449.4,227.4 451.9,230.7 456.5,229.8 461.1,228.9 466.8,233.0 472.7,236.9 478.2,235.2 481.0,228.2 484.7,226.6 488.3,225.1 491.7,221.1 495.1,217.2 491.9,210.9 488.7,204.6 482.9,205.7 477.1,206.8 471.2,207.9 465.4,209.0 459.6,210.1 453.8,211.1 448.1,212.2 442.3,213.2 438.0,218.7 433.2,223.3 429.6,225.5 426.0,227.7 423.2,231.3Z" fill="#a4cce1" stroke="#8fb4cc" stroke-width="0.5"/><path d="M375.7,238.7 381.2,238.3 386.5,237.9 391.8,237.4 397.2,236.9 402.5,236.3 407.8,235.6 413.0,234.9 418.2,234.2 423.3,233.4 423.2,231.3 426.0,227.7 429.6,225.5 433.2,223.3 438.0,218.7 442.3,213.2 437.0,214.2 431.8,215.1 426.5,216.0 420.7,216.8 414.9,217.5 409.1,218.2 403.3,218.9 397.4,219.4 391.5,219.9 391.8,221.7 385.9,222.3 379.9,222.8 378.5,228.0 376.7,232.3Z" fill="#2178b8" stroke="#2178b8" stroke-width="1.0"/><path d="M379.9,222.8 385.9,222.3 391.8,221.7 391.5,219.9 397.4,219.4 403.3,218.9 409.1,218.2 414.9,217.5 420.7,216.8 426.5,216.0 430.1,212.7 433.7,209.4 438.9,203.8 433.2,198.4 433.0,196.0 429.0,195.8 425.0,195.5 419.2,193.0 415.0,192.2 410.9,196.8 408.1,201.3 402.9,205.5 398.6,206.3 394.3,207.1 390.8,208.5 390.6,212.1 386.6,214.8 382.5,217.4Z" fill="#2178b8" stroke="#2178b8" stroke-width="1.0"/><path d="M426.5,216.0 431.8,215.1 437.0,214.2 442.3,213.2 448.1,212.2 453.8,211.1 459.6,210.1 465.4,209.0 471.2,207.9 477.1,206.8 482.9,205.7 488.7,204.6 486.3,197.0 482.7,191.3 476.3,187.3 474.0,185.7 474.7,182.4 471.1,180.0 469.4,179.1 468.9,181.2 464.2,181.4 460.2,186.4 455.6,189.9 453.8,195.7 452.0,201.6 448.6,203.6 445.3,205.6 438.9,203.8 433.7,209.4 430.1,212.7Z" fill="#a4cce1" stroke="#8fb4cc" stroke-width="0.5"/><path d="M433.2,198.4 438.9,203.8 445.3,205.6 448.6,203.6 452.0,201.6 453.8,195.7 455.6,189.9 460.2,186.4 464.2,181.4 468.9,181.2 469.4,179.1 464.0,177.4 460.6,178.1 456.0,183.1 455.3,178.0 451.3,178.9 447.4,179.7 446.8,175.5 446.2,171.3 446.1,174.5 445.0,181.4 442.0,184.1 439.0,186.7 435.8,193.4 433.0,196.0Z" fill="#a4cce1" stroke="#8fb4cc" stroke-width="0.5"/><path d="M455.3,178.0 460.9,176.9 466.4,175.7 472.0,174.5 477.5,173.3 483.1,172.1 484.6,178.4 486.3,184.8 491.3,183.8 490.7,188.3 487.7,189.8 484.2,186.8 482.4,189.8 480.0,185.5 476.3,187.3 474.0,185.7 474.7,182.4 471.1,180.0 469.4,179.1 464.0,177.4 460.6,178.1 456.0,183.1Z" fill="#2178b8" stroke="#2178b8" stroke-width="1.0"/><path d="M483.1,172.1 484.4,170.7 485.5,172.4 488.6,176.4 490.6,180.2 491.3,183.8 486.3,184.8 484.6,178.4Z" fill="#d3e6f1" stroke="#e8f2f8" stroke-width="0.5"/><path d="M444.7,159.3 450.0,155.1 450.3,157.6 455.8,155.9 461.2,154.1 466.6,152.4 471.9,150.9 477.2,149.6 482.5,148.5 484.6,150.2 488.3,154.1 486.0,158.2 485.8,161.4 489.9,165.5 487.5,168.8 485.5,172.4 484.4,170.7 483.1,172.1 477.1,173.4 471.2,174.6 465.3,175.9 459.3,177.2 453.4,178.4 447.4,179.7 446.8,175.5 446.2,171.3 445.4,165.3Z" fill="#2178b8" stroke="#2178b8" stroke-width="1.0"/><path d="M488.3,154.1 494.8,156.6 494.6,159.6 493.2,162.3 495.8,164.6 495.8,169.2 493.0,174.5 491.1,178.8 488.4,175.4 485.5,172.4 487.5,168.8 489.9,165.5 485.8,161.4 486.0,158.2Z" fill="#2178b8" stroke="#2178b8" stroke-width="1.0"/><path d="M450.3,157.6 450.0,155.1 452.9,151.1 455.6,146.9 454.1,143.8 459.3,141.8 464.6,139.9 469.1,137.1 473.5,134.6 473.1,127.4 475.6,124.0 478.1,120.8 482.0,119.1 486.7,118.8 491.5,118.3 492.1,122.9 492.8,127.4 494.7,131.3 496.2,138.8 495.7,145.7 496.6,149.8 497.5,154.0 496.6,156.3 500.6,155.1 504.7,154.0 508.8,152.8 510.0,152.9 505.7,156.5 500.7,158.7 495.7,161.0 493.2,162.3 494.6,159.6 494.8,156.6 488.3,154.1 484.6,150.2 482.5,148.5 477.2,149.6 471.9,150.9 466.6,152.4 461.2,154.1 455.8,155.9Z" fill="#2178b8" stroke="#2178b8" stroke-width="1.0"/><path d="M491.5,118.3 496.2,117.4 501.1,116.3 506.0,115.0 505.7,119.2 502.9,122.8 501.6,128.8 501.3,133.6 502.2,138.0 496.2,138.8 494.7,131.3 492.8,127.4 492.1,122.9Z" fill="#a4cce1" stroke="#8fb4cc" stroke-width="0.5"/><path d="M503.9,110.9 506.4,110.3 509.1,119.5 512.5,128.0 514.5,132.5 516.1,134.2 516.0,136.8 511.0,136.5 506.3,137.4 502.1,138.0 501.3,133.6 501.5,128.8 502.9,122.8 503.5,116.0Z" fill="#2178b8" stroke="#2178b8" stroke-width="1.0"/><path d="M506.4,110.3 508.2,97.9 509.9,87.6 512.2,84.7 517.9,83.0 521.4,84.7 524.8,89.9 528.3,99.1 535.7,106.0 532.8,109.4 528.0,113.0 522.8,118.8 518.5,126.0 516.1,134.2 514.5,132.5 512.5,128.0 509.1,119.5Z" fill="#a4cce1" stroke="#8fb4cc" stroke-width="0.5"/><path d="M495.7,145.7 496.2,138.8 502.2,138.0 506.4,137.4 511.0,136.5 516.2,133.6 515.4,138.5 517.9,142.4 522.4,140.3 523.6,144.0 518.7,146.2 514.9,147.5 511.7,143.0 508.4,143.7 504.1,144.4 499.9,145.1Z" fill="#2178b8" stroke="#2178b8" stroke-width="1.0"/><path d="M508.4,143.7 511.7,143.0 514.9,147.5 509.5,150.5Z" fill="#a4cce1" stroke="#8fb4cc" stroke-width="0.5"/><path d="M495.7,145.7 499.9,145.1 504.1,144.4 508.4,143.7 509.5,150.5 505.6,151.6 501.7,152.7 496.6,156.3 497.5,154.0 496.6,149.8Z" fill="#2178b8" stroke="#2178b8" stroke-width="1.0"/><path d="M412.3,167.4 417.6,166.6 422.9,165.8 428.9,167.5 432.7,166.6 436.4,165.7 440.6,162.7 444.7,159.5 445.4,165.4 446.2,171.3 446.1,174.5 445.0,181.4 442.0,184.1 439.0,186.7 435.8,193.4 433.0,196.0 429.0,195.8 425.0,195.5 419.2,193.0 415.0,192.2 414.3,185.9 413.7,179.6 413.0,173.5Z" fill="#a4cce1" stroke="#8fb4cc" stroke-width="0.5"/><path d="M391.6,169.0 396.9,168.0 401.9,167.7 407.0,167.3 412.2,166.8 413.0,173.0 413.6,179.3 414.3,185.7 415.0,192.2 410.9,196.8 408.1,201.3 402.9,205.5 398.6,206.3 394.3,207.1 390.8,208.5 391.6,203.3 392.6,197.8 393.7,192.4 393.0,184.6 392.3,176.8Z" fill="#2178b8" stroke="#2178b8" stroke-width="1.0"/><path d="M367.7,161.9 373.1,161.7 378.3,161.5 383.5,161.2 388.7,161.0 390.7,166.0 391.6,169.0 392.3,176.8 393.0,184.6 393.7,192.4 392.6,197.8 391.6,203.3 390.8,208.5 390.6,212.1 386.6,214.8 382.5,217.4 378.9,211.1 372.6,205.9 373.7,199.7 368.7,195.8 362.6,189.2 362.6,184.2 364.8,176.7 368.5,172.3 371.4,169.1 371.7,167.0Z" fill="#2178b8" stroke="#2178b8" stroke-width="1.0"/><path d="M351.2,138.5 351.4,133.9 351.5,129.4 354.5,124.3 353.9,118.2 357.9,116.8 361.6,115.5 366.4,118.7 370.6,121.4 375.2,122.8 379.6,124.2 384.5,126.6 387.3,133.5 385.2,139.5 388.1,135.7 391.4,131.2 390.1,136.7 388.7,142.1 388.1,148.5 387.5,155.9 388.7,161.0 383.5,161.2 378.3,161.5 373.1,161.7 367.7,161.9 364.2,159.4 363.1,151.5 362.8,148.3 357.2,141.5Z" fill="#a4cce1" stroke="#8fb4cc" stroke-width="0.5"/><path d="M406.0,121.5 401.8,129.2 398.3,137.2 397.2,148.7 398.3,157.8 396.8,167.8 412.1,166.7 412.2,167.3 422.8,165.8 421.8,163.0 424.4,158.7 427.8,150.1 427.0,145.0 425.2,141.5 421.5,141.0 418.4,139.7 419.0,136.0 416.6,132.9 413.9,127.0 409.0,123.5Z" fill="#2178b8" stroke="#2178b8" stroke-width="1.0"/><path d="M367.2,118.7 372.0,116.0 376.2,114.8 381.5,109.0 383.9,110.5 383.0,113.9 385.0,113.9 389.1,115.3 393.9,116.3 398.8,115.0 402.9,113.6 405.6,115.7 409.8,117.0 415.3,119.8 411.1,120.5 405.6,120.5 402.2,120.5 398.8,121.5 391.9,125.0 388.4,127.7 386.4,131.1 385.7,133.5 382.9,126.1 376.0,123.2Z" fill="#2178b8" stroke="#2178b8" stroke-width="1.0"/>
</g>
<path d="M127.2,281.5 L132.9,278 L140.4,275.2 L147.8,276.9 L159.3,278.6 L163.9,309 L166.5,312.5 L160.5,313.7 L154,312.1 L152.4,313.6 L147.8,315.9 L143.3,320 L138.9,322.6 L135,324 L130,325.5 L128.3,320 L127.2,313.6 L123.8,309 L126,304.4 L130.6,299.8 L124.9,293 L129.5,291.8 L126.6,286 Z" fill="#fbfdff" stroke="#fbfdff" stroke-width="2"/>
<path d="M127.2,281.5 L132.9,278 L140.4,275.2 L147.8,276.9 L159.3,278.6 L163.9,309 L166.5,312.5 L160.5,313.7 L154,312.1 L152.4,313.6 L147.8,315.9 L143.3,320 L138.9,322.6 L135,324 L130,325.5 L128.3,320 L127.2,313.6 L123.8,309 L126,304.4 L130.6,299.8 L124.9,293 L129.5,291.8 L126.6,286 Z" fill="#a4cce1" stroke="#9dbfd3" stroke-width="0.5"/>
<path d="M139,322.4 L132,326.5 L126.5,329.4 L115.2,334.8 L103.9,337.2" fill="none" stroke="#8fa9b9" stroke-width="1.1" stroke-linecap="round"/>
<path d="M101,337.3 L92.6,336.1 L81.3,330.5 L73.4,323.7" fill="none" stroke="#a9bcc8" stroke-width="0.9" stroke-dasharray="2.5 2" stroke-linecap="round"/>
<path d="M166.1,312.1 L175.8,313.7 L190.3,323.4 L186.3,326.6 L174.2,317.7 L166.1,314.5 Z" fill="#8fa7b7"/>
<g fill="#9fb5c3"><circle cx="116.9" cy="299.8" r="0.9"/><circle cx="124.9" cy="290.6" r="0.8"/><circle cx="121.5" cy="306" r="0.7"/></g>
<g fill="#98b2c3">
<ellipse cx="204.7" cy="305.1" rx="2" ry="1.8"/><circle cx="199.3" cy="306.8" r="1"/>
<ellipse cx="219.9" cy="311.3" rx="2.8" ry="1.9" transform="rotate(15 219.9 311.3)"/>
<ellipse cx="228.6" cy="314.8" rx="3.4" ry="1.3" transform="rotate(22 228.6 314.8)"/>
<ellipse cx="235" cy="318.5" rx="3" ry="1.9" transform="rotate(28 235 318.5)"/>
</g>
<path d="M239.4,323.8 Q246,326 250.8,330.5 Q247,334.5 242,337.2 Q239.5,334 239.4,329 Z" fill="#a4cce1"/>
<g fill="#a3b6c3"><circle cx="123.5" cy="224.5" r="0.8"/><circle cx="126" cy="233.3" r="0.7"/><circle cx="134.7" cy="234.9" r="0.8"/><circle cx="133.9" cy="239" r="0.7"/></g>
<ellipse cx="375.8" cy="103.4" rx="2.2" ry="0.8" transform="rotate(-35 375.8 103.4)" fill="#98b2c3"/>
<g>
<text x="156" y="93.9" fill="#dff0fb" stroke="#dff0fb">WA</text><text x="146" y="126.4" fill="#dff0fb" stroke="#dff0fb">OR</text><text x="137" y="201.4" fill="#dff0fb" stroke="#dff0fb">CA</text><text x="164" y="177.4" fill="#dff0fb" stroke="#dff0fb">NV</text><text x="194.5" y="237.4" fill="#dff0fb" stroke="#dff0fb">AZ</text><text x="190" y="136.9" fill="#2d4252" stroke="#2d4252">ID</text><text x="230.5" y="107.9" fill="#2d4252" stroke="#2d4252">MT</text><text x="239.5" y="154.4" fill="#2d4252" stroke="#2d4252">WY</text><text x="203" y="187.9" fill="#2d4252" stroke="#2d4252">UT</text><text x="250.5" y="197.3" fill="#dff0fb" stroke="#dff0fb">CO</text><text x="241" y="243.9" fill="#2d4252" stroke="#2d4252">NM</text><text x="295" y="112.4" fill="#2d4252" stroke="#2d4252">ND</text><text x="295" y="143.9" fill="#2d4252" stroke="#2d4252">SD</text><text x="296" y="173.9" fill="#2d4252" stroke="#2d4252">NE</text><text x="307" y="208.9" fill="#2d4252" stroke="#2d4252">KS</text><text x="314" y="236.4" fill="#2d4252" stroke="#2d4252">OK</text><text x="297.5" y="276.9" fill="#dff0fb" stroke="#dff0fb">TX</text><text x="338.5" y="123.2" fill="#2d4252" stroke="#2d4252">MN</text><text x="346" y="168.9" fill="#dff0fb" stroke="#dff0fb">IA</text><text x="354.5" y="207.9" fill="#dff0fb" stroke="#dff0fb">MO</text><text x="356.5" y="243.4" fill="#2d4252" stroke="#2d4252">AR</text><text x="358.5" y="280.9" fill="#2d4252" stroke="#2d4252">LA</text><text x="370.3" y="138.4" fill="#2d4252" stroke="#2d4252">WI</text><text x="380.3" y="186.4" fill="#dff0fb" stroke="#dff0fb">IL</text><text x="381.5" y="262.4" fill="#2d4252" stroke="#2d4252">MS</text><text x="405" y="259.9" fill="#2d4252" stroke="#2d4252">AL</text><text x="409" y="147.4" fill="#dff0fb" stroke="#dff0fb">MI</text><text x="402.3" y="186.4" fill="#dff0fb" stroke="#dff0fb">IN</text><text x="415.8" y="211.4" fill="#dff0fb" stroke="#dff0fb">KY</text><text x="406.5" y="230.4" fill="#dff0fb" stroke="#dff0fb">TN</text><text x="434.3" y="258.4" fill="#dff0fb" stroke="#dff0fb">GA</text><text x="454" y="301.9" fill="#dff0fb" stroke="#dff0fb">FL</text><text x="428.8" y="182.2" fill="#2d4252" stroke="#2d4252">OH</text><text x="446.2" y="199.9" fill="#2d4252" stroke="#2d4252">WV</text><text x="465" y="203.9" fill="#2d4252" stroke="#2d4252">VA</text><text x="464" y="224.9" fill="#2d4252" stroke="#2d4252">NC</text><text x="454.5" y="243.3" fill="#2d4252" stroke="#2d4252">SC</text><text x="466" y="168.4" fill="#dff0fb" stroke="#dff0fb">PA</text><text x="480" y="140.4" fill="#dff0fb" stroke="#dff0fb">NY</text><text x="517.5" y="104.9" fill="#2d4252" stroke="#2d4252">ME</text><text x="509" y="143.4" fill="#dff0fb" stroke="#dff0fb">MA</text><text x="145" y="301.4" fill="#2d4252" stroke="#2d4252">AK</text><text x="225.6" y="329.9" fill="#2d4252" stroke="#2d4252">HI</text>
</g>
<g>
<rect x="554" y="150.40" width="17" height="12.5" rx="3" fill="#2178b8" stroke="#1a66a3" stroke-width="0.6"/><text x="562.5" y="159.40" fill="#e4f1fb" stroke="#e4f1fb" textLength="8.6" lengthAdjust="spacingAndGlyphs" style="font-size:7.4px">CT</text><rect x="554" y="171.25" width="17" height="12.5" rx="3" fill="#a4cce1" stroke="#96bdd4" stroke-width="0.6"/><text x="562.5" y="180.25" fill="#2d4252" stroke="#2d4252" textLength="8.6" lengthAdjust="spacingAndGlyphs" style="font-size:7.4px">DC</text><rect x="554" y="192.10" width="17" height="12.5" rx="3" fill="#a4cce1" stroke="#96bdd4" stroke-width="0.6"/><text x="562.5" y="201.10" fill="#2d4252" stroke="#2d4252" textLength="8.6" lengthAdjust="spacingAndGlyphs" style="font-size:7.4px">DE</text><rect x="554" y="212.95" width="17" height="12.5" rx="3" fill="#2178b8" stroke="#1a66a3" stroke-width="0.6"/><text x="562.5" y="221.95" fill="#e4f1fb" stroke="#e4f1fb" textLength="8.6" lengthAdjust="spacingAndGlyphs" style="font-size:7.4px">MD</text><rect x="554" y="233.80" width="17" height="12.5" rx="3" fill="#2178b8" stroke="#1a66a3" stroke-width="0.6"/><text x="562.5" y="242.80" fill="#e4f1fb" stroke="#e4f1fb" textLength="8.6" lengthAdjust="spacingAndGlyphs" style="font-size:7.4px">NH</text><rect x="554" y="254.65" width="17" height="12.5" rx="3" fill="#2178b8" stroke="#1a66a3" stroke-width="0.6"/><text x="562.5" y="263.65" fill="#e4f1fb" stroke="#e4f1fb" textLength="8.6" lengthAdjust="spacingAndGlyphs" style="font-size:7.4px">NJ</text><rect x="554" y="275.50" width="17" height="12.5" rx="3" fill="#a4cce1" stroke="#96bdd4" stroke-width="0.6"/><text x="562.5" y="284.50" fill="#2d4252" stroke="#2d4252" textLength="8.6" lengthAdjust="spacingAndGlyphs" style="font-size:7.4px">RI</text><rect x="554" y="296.35" width="17" height="12.5" rx="3" fill="#a4cce1" stroke="#96bdd4" stroke-width="0.6"/><text x="562.5" y="305.35" fill="#2d4252" stroke="#2d4252" textLength="8.6" lengthAdjust="spacingAndGlyphs" style="font-size:7.4px">VT</text>
</g>
<g>
<path d="M536.7,331.4 A14.3,14.3 0 1 0 537.8,357.8" fill="none" stroke="#b0b8bf" stroke-width="0.9"/>
<g fill="none" stroke="#2d5e9f" stroke-width="1.0" stroke-linecap="round">
<path d="M544.6,335.4 L536,344.6 Q533,348.5 526.8,352.3"/>
<path d="M546.1,336.9 L537.6,346 Q535,349.6 530.5,352.6 L534.5,354.5"/>
<path d="M547.6,338.4 L539.2,347.4 Q536.8,351 537.8,359"/>
<path d="M541.7,351.6 L547.2,352.2"/>
</g>
<g fill="none" stroke="#8fc0e6" stroke-width="0.6">
<path d="M545.35,336.15 L536.8,345.3 Q534,349 529,352.4"/>
<path d="M546.85,337.65 L538.4,346.7 Q536,350.3 536,356"/>
</g>
<rect x="556.5" y="337.3" width="25.2" height="16.2" fill="#1f5fa8"/>
<text x="569.1" y="350.2" style="font-family:'Liberation Serif',serif;font-size:12.5px;font-weight:bold;" fill="#fff" textLength="23.5" lengthAdjust="spacingAndGlyphs">CDC</text>
<rect x="557" y="354.8" width="24" height="1.6" fill="#9fb3c8"/>
</g>
</svg>
</body></html>
